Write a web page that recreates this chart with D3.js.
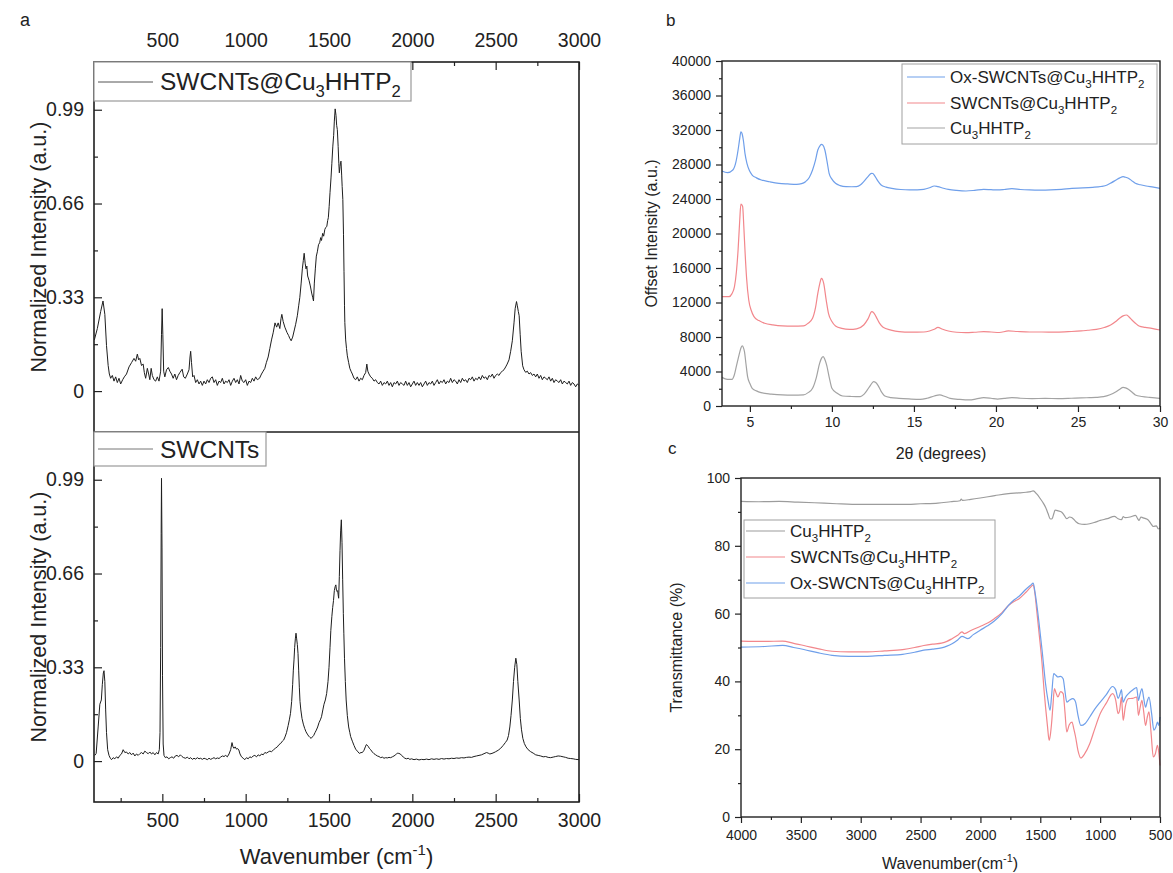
<!DOCTYPE html>
<html><head><meta charset="utf-8">
<script src="https://cdn.jsdelivr.net/npm/d3@7"></script>
<style>
body{margin:0;background:#fff}
text{font-family:"Liberation Sans",Arial,Helvetica,sans-serif;fill:#222}
</style>
</head><body>
<svg id="chart" width="1173" height="873"></svg>
<script>
// ---------------- DATA ----------------
// Panel a: Raman spectra [wavenumber cm-1, normalized intensity]
const ramanComposite = [[92,0.18],[110,0.22],[130,0.28],[144,0.317],[155,0.27],[165,0.16],[175,0.09],[182,0.06],[190,0.045],[200,0.055],[210,0.035],[220,0.05],[230,0.03],[240,0.045],[250,0.025],[262,0.04],[272,0.05],[285,0.06],[300,0.085],[315,0.1],[330,0.115],[340,0.105],[350,0.13],[358,0.11],[365,0.115],[375,0.09],[385,0.095],[392,0.065],[400,0.045],[410,0.08],[418,0.06],[425,0.04],[433,0.08],[440,0.055],[450,0.04],[460,0.035],[470,0.05],[480,0.035],[490,0.07],[495,0.2],[499,0.29],[503,0.2],[508,0.07],[515,0.05],[525,0.075],[536,0.083],[545,0.07],[555,0.06],[565,0.045],[575,0.06],[585,0.04],[595,0.055],[605,0.065],[619,0.077],[628,0.05],[638,0.045],[650,0.06],[660,0.075],[666,0.12],[670,0.14],[675,0.1],[682,0.05],[690,0.055],[700,0.03],[710,0.04],[720,0.025],[730,0.035],[740,0.02],[750,0.035],[760,0.025],[770,0.04],[780,0.03],[790,0.045],[800,0.05],[810,0.03],[820,0.04],[830,0.02],[840,0.035],[850,0.03],[860,0.045],[870,0.025],[880,0.035],[890,0.03],[900,0.04],[910,0.02],[920,0.035],[930,0.045],[940,0.03],[950,0.04],[960,0.025],[970,0.055],[980,0.035],[990,0.03],[1000,0.04],[1010,0.02],[1020,0.035],[1030,0.03],[1040,0.045],[1050,0.035],[1060,0.05],[1070,0.04],[1083,0.045],[1095,0.06],[1105,0.07],[1115,0.08],[1124,0.1],[1135,0.12],[1145,0.15],[1155,0.18],[1165,0.205],[1176,0.24],[1186,0.225],[1195,0.24],[1205,0.22],[1212,0.255],[1217,0.27],[1225,0.245],[1235,0.225],[1248,0.206],[1258,0.195],[1265,0.185],[1273,0.177],[1282,0.19],[1292,0.215],[1300,0.235],[1310,0.265],[1318,0.3],[1325,0.33],[1333,0.38],[1340,0.43],[1346,0.46],[1351,0.485],[1357,0.45],[1362,0.43],[1367,0.44],[1372,0.405],[1380,0.39],[1388,0.37],[1396,0.345],[1402,0.33],[1407,0.317],[1412,0.38],[1418,0.43],[1424,0.475],[1430,0.49],[1437,0.515],[1444,0.522],[1450,0.54],[1455,0.53],[1462,0.555],[1468,0.545],[1475,0.569],[1480,0.575],[1487,0.58],[1492,0.6],[1496,0.61],[1501,0.65],[1506,0.698],[1512,0.75],[1517,0.8],[1523,0.862],[1528,0.9],[1532,0.95],[1537,0.993],[1542,0.97],[1546,0.935],[1550,0.92],[1555,0.86],[1559,0.8],[1562,0.768],[1566,0.79],[1569,0.805],[1572,0.809],[1576,0.76],[1579,0.72],[1583,0.674],[1587,0.55],[1590,0.42],[1593,0.3],[1595,0.241],[1600,0.18],[1605,0.15],[1610,0.124],[1618,0.1],[1625,0.08],[1632,0.07],[1640,0.06],[1650,0.045],[1660,0.04],[1670,0.05],[1680,0.035],[1690,0.045],[1700,0.04],[1710,0.055],[1720,0.065],[1727,0.095],[1733,0.07],[1740,0.06],[1750,0.05],[1760,0.045],[1770,0.035],[1780,0.04],[1790,0.03],[1800,0.025],[1810,0.035],[1820,0.02],[1830,0.03],[1840,0.025],[1850,0.035],[1860,0.02],[1870,0.03],[1880,0.015],[1890,0.03],[1900,0.025],[1910,0.035],[1920,0.02],[1930,0.03],[1940,0.025],[1950,0.02],[1960,0.035],[1970,0.02],[1980,0.03],[1990,0.015],[2000,0.025],[2010,0.035],[2020,0.02],[2030,0.03],[2040,0.02],[2050,0.03],[2060,0.015],[2070,0.025],[2080,0.035],[2090,0.02],[2100,0.03],[2110,0.025],[2120,0.035],[2130,0.02],[2140,0.03],[2150,0.04],[2160,0.025],[2170,0.035],[2180,0.03],[2190,0.04],[2200,0.025],[2210,0.035],[2220,0.03],[2230,0.045],[2240,0.03],[2250,0.04],[2260,0.035],[2270,0.025],[2280,0.04],[2290,0.03],[2300,0.045],[2310,0.035],[2320,0.04],[2330,0.03],[2340,0.045],[2350,0.04],[2360,0.05],[2370,0.035],[2380,0.045],[2390,0.04],[2400,0.05],[2410,0.04],[2420,0.055],[2430,0.045],[2440,0.05],[2450,0.04],[2460,0.055],[2470,0.05],[2480,0.06],[2490,0.045],[2500,0.055],[2510,0.06],[2520,0.055],[2530,0.065],[2540,0.07],[2550,0.075],[2560,0.085],[2569,0.095],[2580,0.11],[2590,0.14],[2600,0.177],[2610,0.24],[2617,0.29],[2625,0.315],[2630,0.3],[2636,0.28],[2641,0.265],[2647,0.2],[2653,0.14],[2662,0.089],[2670,0.075],[2680,0.066],[2690,0.07],[2700,0.06],[2710,0.065],[2720,0.055],[2730,0.06],[2740,0.05],[2750,0.06],[2760,0.045],[2770,0.055],[2780,0.04],[2790,0.05],[2800,0.045],[2810,0.04],[2820,0.05],[2830,0.035],[2840,0.045],[2850,0.03],[2860,0.04],[2870,0.035],[2880,0.03],[2890,0.04],[2900,0.025],[2910,0.035],[2920,0.03],[2930,0.025],[2940,0.035],[2950,0.02],[2960,0.03],[2970,0.025],[2980,0.015],[2990,0.025],[3000,0.02]];

const ramanSWCNT = [[95,0.02],[103,0.027],[115,0.12],[125,0.2],[134,0.215],[140,0.27],[146,0.31],[150,0.318],[155,0.28],[160,0.18],[165,0.1],[172,0.04],[180,0.02],[188,0.01],[195,0.005],[205,0.012],[215,0.008],[225,0.015],[235,0.01],[245,0.02],[255,0.025],[265,0.04],[275,0.03],[285,0.032],[295,0.025],[305,0.03],[315,0.022],[325,0.028],[335,0.018],[345,0.025],[355,0.02],[365,0.026],[375,0.03],[385,0.025],[395,0.035],[405,0.03],[415,0.026],[425,0.032],[435,0.025],[445,0.03],[455,0.022],[465,0.03],[475,0.025],[482,0.04],[486,0.1],[490,0.4],[493,0.8],[495,0.995],[498,0.75],[501,0.3],[505,0.06],[510,0.02],[518,0.012],[528,0.015],[538,0.008],[548,0.012],[558,0.015],[568,0.01],[578,0.018],[588,0.02],[598,0.015],[608,0.022],[618,0.016],[628,0.012],[640,0.01],[650,0.014],[660,0.008],[670,0.012],[680,0.006],[690,0.01],[700,0.007],[710,0.012],[720,0.008],[730,0.01],[740,0.006],[750,0.01],[760,0.008],[770,0.005],[780,0.01],[790,0.006],[800,0.009],[810,0.012],[820,0.008],[830,0.011],[840,0.009],[850,0.014],[860,0.018],[870,0.016],[880,0.02],[890,0.015],[900,0.025],[910,0.04],[918,0.065],[924,0.05],[930,0.045],[937,0.05],[945,0.042],[952,0.044],[959,0.039],[966,0.025],[975,0.015],[985,0.01],[995,0.005],[1005,0.012],[1015,0.008],[1025,0.015],[1035,0.012],[1045,0.018],[1055,0.02],[1065,0.015],[1075,0.022],[1085,0.018],[1095,0.025],[1105,0.022],[1115,0.03],[1125,0.028],[1135,0.032],[1145,0.035],[1155,0.033],[1166,0.039],[1178,0.045],[1190,0.05],[1200,0.058],[1210,0.062],[1220,0.07],[1228,0.074],[1236,0.085],[1245,0.1],[1255,0.125],[1262,0.145],[1269,0.168],[1276,0.21],[1282,0.27],[1286,0.32],[1290,0.356],[1294,0.4],[1298,0.43],[1302,0.45],[1306,0.43],[1310,0.41],[1314,0.379],[1318,0.32],[1322,0.26],[1326,0.21],[1331,0.18],[1338,0.15],[1346,0.13],[1354,0.115],[1362,0.103],[1370,0.095],[1378,0.088],[1386,0.083],[1393,0.08],[1400,0.085],[1408,0.09],[1416,0.1],[1424,0.109],[1432,0.12],[1440,0.135],[1448,0.145],[1455,0.156],[1463,0.18],[1470,0.2],[1478,0.215],[1486,0.238],[1494,0.28],[1500,0.33],[1506,0.4],[1511,0.46],[1517,0.508],[1522,0.54],[1527,0.565],[1532,0.6],[1537,0.614],[1541,0.62],[1545,0.6],[1548,0.597],[1552,0.6],[1555,0.585],[1558,0.573],[1562,0.65],[1566,0.74],[1570,0.81],[1574,0.849],[1578,0.77],[1582,0.64],[1586,0.52],[1589,0.45],[1593,0.36],[1598,0.28],[1603,0.215],[1610,0.16],[1618,0.12],[1625,0.1],[1630,0.086],[1640,0.07],[1650,0.055],[1660,0.042],[1670,0.035],[1682,0.027],[1692,0.03],[1700,0.03],[1710,0.038],[1718,0.05],[1724,0.058],[1729,0.056],[1735,0.052],[1742,0.045],[1750,0.04],[1760,0.032],[1770,0.026],[1780,0.022],[1790,0.018],[1800,0.016],[1810,0.012],[1820,0.014],[1830,0.01],[1840,0.012],[1850,0.011],[1860,0.013],[1870,0.012],[1880,0.015],[1890,0.018],[1900,0.022],[1910,0.028],[1919,0.027],[1928,0.025],[1935,0.02],[1945,0.015],[1955,0.01],[1965,0.008],[1975,0.01],[1985,0.006],[1995,0.008],[2010,0.005],[2025,0.007],[2040,0.004],[2055,0.006],[2070,0.005],[2085,0.007],[2100,0.005],[2115,0.008],[2130,0.006],[2145,0.008],[2160,0.006],[2175,0.009],[2190,0.007],[2205,0.009],[2220,0.008],[2235,0.01],[2250,0.009],[2265,0.011],[2280,0.01],[2295,0.012],[2310,0.011],[2325,0.013],[2340,0.014],[2355,0.013],[2370,0.016],[2385,0.018],[2400,0.02],[2415,0.022],[2430,0.026],[2445,0.03],[2455,0.028],[2465,0.025],[2478,0.027],[2490,0.03],[2500,0.033],[2515,0.038],[2530,0.045],[2545,0.055],[2558,0.065],[2569,0.074],[2577,0.09],[2585,0.12],[2592,0.16],[2600,0.215],[2607,0.28],[2614,0.33],[2621,0.362],[2627,0.34],[2633,0.28],[2641,0.215],[2648,0.15],[2655,0.11],[2663,0.08],[2672,0.062],[2682,0.05],[2695,0.04],[2710,0.033],[2725,0.028],[2740,0.022],[2755,0.02],[2770,0.018],[2785,0.015],[2800,0.016],[2815,0.013],[2830,0.012],[2845,0.014],[2860,0.016],[2875,0.018],[2890,0.017],[2905,0.015],[2920,0.013],[2935,0.01],[2950,0.009],[2965,0.008],[2980,0.006],[3000,0.005]];

const ramanXTicks = [500,1000,1500,2000,2500,3000];
const ramanYTicks = [0,0.33,0.66,0.99];

// Panel b: XRD [2theta, offset intensity]
const xrdOx = [[3.3,27250],[3.63,27050],[3.96,27360],[4.15,28300],[4.28,29680],[4.38,31000],[4.45,31800],[4.52,31600],[4.6,30840],[4.7,29300],[4.82,28140],[4.97,27300],[5.14,26780],[5.4,26450],[5.7,26200],[6.2,26000],[6.77,25820],[7.3,25750],[7.85,25700],[8.15,25780],[8.39,26010],[8.62,26500],[8.82,27360],[9.0,28500],[9.14,29680],[9.28,30200],[9.36,30340],[9.45,30250],[9.57,29680],[9.7,28400],[9.83,26980],[10.0,26300],[10.22,25820],[10.5,25550],[10.86,25430],[11.2,25420],[11.5,25430],[11.75,25650],[11.94,26010],[12.2,26600],[12.41,26980],[12.5,26950],[12.58,26780],[12.8,26100],[13.0,25620],[13.3,25380],[13.65,25240],[14.2,25100],[14.73,25050],[15.2,25060],[15.6,25120],[15.95,25300],[16.24,25510],[16.46,25430],[16.8,25250],[17.1,25120],[17.6,25000],[18.17,24930],[18.7,25000],[19.25,25120],[19.7,25080],[20.1,25050],[20.5,25100],[20.97,25200],[21.5,25100],[22.05,25050],[22.7,25030],[23.34,25050],[24.0,25120],[24.63,25240],[25.3,25280],[25.9,25350],[26.4,25450],[26.78,25620],[27.05,25900],[27.32,26200],[27.55,26450],[27.75,26590],[27.9,26520],[28.07,26400],[28.3,26100],[28.5,25820],[28.8,25650],[29.15,25510],[29.6,25380],[30.0,25240]];
const xrdSW = [[3.3,12680],[3.73,12680],[3.9,13000],[4.06,13840],[4.18,15600],[4.28,18090],[4.38,21500],[4.45,23420],[4.5,23350],[4.56,23110],[4.63,20800],[4.71,17700],[4.8,14800],[4.93,12290],[5.08,11100],[5.25,10360],[5.55,9900],[5.9,9590],[6.4,9400],[6.98,9280],[7.6,9250],[8.27,9280],[8.55,9600],[8.82,10170],[9.0,11400],[9.14,13060],[9.26,14200],[9.36,14800],[9.42,14700],[9.5,14220],[9.65,12300],[9.79,10740],[10.0,9800],[10.22,9280],[10.6,9000],[11.08,8890],[11.5,8950],[11.94,9390],[12.2,10100],[12.43,10940],[12.55,10800],[12.69,10360],[12.9,9600],[13.12,9120],[13.6,8800],[14.09,8620],[14.8,8560],[15.6,8580],[15.95,8700],[16.24,8890],[16.46,9120],[16.75,8900],[17.1,8700],[17.6,8550],[18.17,8500],[18.7,8550],[19.25,8620],[19.7,8580],[20.2,8520],[20.76,8700],[21.3,8640],[22.05,8580],[22.8,8580],[23.6,8560],[24.4,8620],[25.2,8700],[25.6,8780],[26.12,8890],[26.6,9100],[26.99,9390],[27.3,9800],[27.53,10170],[27.75,10450],[27.96,10550],[28.1,10350],[28.29,9970],[28.5,9600],[28.72,9280],[29.1,9120],[29.5,9000],[30.0,8810]];
const xrdCu = [[3.3,3320],[3.63,3090],[3.91,3090],[4.05,3600],[4.17,4560],[4.3,5600],[4.39,6300],[4.46,6750],[4.54,6960],[4.6,6800],[4.67,6300],[4.76,4900],[4.86,3400],[5.0,2600],[5.14,2050],[5.4,1750],[5.68,1550],[6.3,1380],[6.98,1280],[7.6,1260],[8.27,1280],[8.55,1550],[8.82,2050],[9.05,3300],[9.25,4950],[9.37,5550],[9.47,5720],[9.57,5400],[9.68,4750],[9.85,3200],[10.0,2050],[10.3,1500],[10.65,1160],[11.2,1100],[11.73,1080],[11.95,1350],[12.16,1860],[12.35,2400],[12.54,2820],[12.65,2750],[12.8,2430],[13.0,1700],[13.23,1160],[13.6,980],[14.09,890],[14.7,820],[15.38,770],[15.8,900],[16.24,1160],[16.57,1280],[16.9,1100],[17.21,890],[17.8,760],[18.39,700],[18.8,820],[19.25,970],[19.7,900],[20.1,800],[20.5,880],[20.97,970],[21.5,900],[22.2,860],[23.0,880],[23.8,860],[24.6,900],[25.2,940],[25.7,970],[26.1,1000],[26.56,1080],[26.95,1300],[27.32,1660],[27.55,1950],[27.75,2160],[27.9,2100],[28.07,1930],[28.3,1600],[28.5,1280],[28.9,1100],[29.36,1000],[29.7,950],[30.0,890]];
const xrdXTicks = [5,10,15,20,25,30];
const xrdYTicks = [0,4000,8000,12000,16000,20000,24000,28000,32000,36000,40000];

// Panel c: FTIR [wavenumber cm-1, transmittance %]
const ftirCu = [[4000,93.1],[3850,93.0],[3682,93.1],[3530,92.9],[3387,92.7],[3200,92.4],[3004,92.2],[2820,92.2],[2650,92.2],[2500,92.4],[2355,92.6],[2250,93.0],[2170,93.3],[2160,93.8],[2150,93.4],[2080,93.7],[2002,94.1],[1880,94.8],[1766,95.4],[1680,95.6],[1618,95.8],[1580,96.0],[1559,96.2],[1530,95.3],[1500,93.9],[1475,92.6],[1456,91.4],[1435,89.5],[1418,88.0],[1407,87.9],[1397,88.3],[1386,89.6],[1376,90.5],[1350,90.3],[1323,90.0],[1300,89.0],[1279,88.0],[1255,88.5],[1235,88.3],[1205,87.2],[1176,86.5],[1130,86.3],[1087,86.5],[1040,87.0],[999,87.5],[940,88.0],[881,88.7],[850,88.0],[822,87.7],[807,88.6],[792,88.3],[750,88.5],[704,89.0],[690,88.2],[674,87.5],[660,88.5],[645,88.3],[620,88.0],[601,87.7],[575,86.5],[556,85.7],[530,85.9],[515,85.0],[500,85.3]];
const ftirSW = [[4000,51.9],[3800,51.8],[3652,51.9],[3560,51.2],[3475,50.6],[3350,49.6],[3239,48.9],[3100,48.7],[2945,48.7],[2800,49.0],[2650,49.4],[2550,50.0],[2473,50.6],[2400,51.0],[2325,51.3],[2280,51.8],[2237,52.6],[2190,53.6],[2154,54.6],[2134,54.1],[2080,55.0],[2002,56.2],[1940,57.2],[1884,58.5],[1820,60.3],[1766,62.4],[1720,63.6],[1677,64.4],[1620,66.3],[1580,67.8],[1559,68.5],[1545,66.0],[1530,61.0],[1508,53.5],[1485,45.2],[1470,38.0],[1456,32.4],[1440,26.8],[1426,22.6],[1416,24.2],[1406,27.5],[1394,33.0],[1382,37.9],[1368,36.6],[1353,35.4],[1330,37.0],[1309,36.4],[1294,31.0],[1279,25.1],[1258,27.2],[1235,28.0],[1220,26.0],[1205,23.6],[1185,19.6],[1161,17.4],[1130,18.6],[1087,21.6],[1045,26.0],[999,30.5],[950,33.5],[896,36.4],[870,34.5],[850,30.5],[837,31.5],[822,35.4],[815,32.0],[807,28.5],[790,32.5],[763,34.9],[730,35.0],[695,35.4],[688,33.0],[680,30.0],[665,32.5],[651,34.4],[636,31.0],[621,27.0],[606,29.5],[592,31.0],[575,25.0],[556,17.7],[540,18.5],[521,21.1],[510,19.0],[500,15.2]];
const ftirOx = [[4000,50.1],[3800,50.3],[3652,50.6],[3560,50.0],[3475,49.4],[3350,48.4],[3239,47.7],[3100,47.4],[2945,47.4],[2800,47.7],[2650,48.0],[2550,48.6],[2473,49.2],[2400,49.5],[2325,49.9],[2280,50.4],[2237,51.1],[2190,52.2],[2154,53.3],[2104,52.6],[2060,53.8],[2002,55.1],[1940,56.4],[1884,57.8],[1820,60.0],[1766,62.4],[1720,64.0],[1677,65.1],[1620,67.2],[1580,68.4],[1559,69.0],[1545,66.5],[1530,62.9],[1508,56.5],[1485,49.2],[1470,44.0],[1456,39.3],[1436,34.5],[1418,31.5],[1405,36.0],[1388,42.3],[1370,41.8],[1353,41.3],[1330,41.5],[1309,40.8],[1294,37.2],[1279,33.9],[1255,34.5],[1229,34.9],[1215,34.6],[1205,33.9],[1185,30.0],[1161,27.0],[1125,27.6],[1087,29.5],[1045,31.8],[999,33.9],[950,36.0],[896,38.5],[870,37.5],[850,35.0],[837,35.9],[822,37.6],[815,35.5],[807,33.9],[790,35.2],[763,36.4],[730,37.4],[695,38.2],[688,36.5],[680,34.4],[665,36.5],[651,37.9],[636,35.0],[621,32.4],[606,34.2],[592,35.4],[570,30.5],[551,25.6],[535,26.5],[521,28.0],[510,27.0],[500,29.5]];
const ftirXTicks = [4000,3500,3000,2500,2000,1500,1000,500];
const ftirYTicks = [0,20,40,60,80,100];

const cBlue = "#6f9fea", cRed = "#f2878c", cGray = "#a3a3a3";

// ---------------- HELPERS ----------------
const svg = d3.select("#chart");
const fmtInt = d3.format("d");
function rich(g, x, y, parts, fs, anchor, rotate) {
  const t = g.append("text").attr("x", x).attr("y", y)
    .attr("font-size", fs).attr("text-anchor", anchor || "start");
  if (rotate) t.attr("transform", `rotate(${rotate},${x},${y})`);
  let cur = 0;
  parts.forEach(p => {
    const s = p[0], type = p[1];
    let off = 0, size = fs;
    if (type === "sub") { off = 0.3 * fs; size = 0.68 * fs; }
    if (type === "sup") { off = -0.42 * fs; size = 0.68 * fs; }
    t.append("tspan").attr("dy", off - cur).attr("font-size", size).text(s);
    cur = off;
  });
  return t;
}
function styleAxis(g, fs) {
  g.select(".domain").remove();
  g.selectAll(".tick line").attr("stroke", "#222").attr("stroke-width", 1.2);
  g.selectAll(".tick text").attr("font-size", fs).attr("fill", "#222")
    .attr("font-family", '"Liberation Sans",Arial,sans-serif');
}
const subCu = [["SWCNTs@Cu"],["3","sub"],["HHTP"],["2","sub"]];
const subOx = [["Ox-SWCNTs@Cu"],["3","sub"],["HHTP"],["2","sub"]];
const subPure = [["Cu"],["3","sub"],["HHTP"],["2","sub"]];

// ---------------- PANEL A ----------------
const aL = 94, aR = 579, aT = 62, aM = 432, aB = 802;
const xA = d3.scaleLinear().domain([90, 3000]).range([aL, aR]);
const yAT = d3.scaleLinear().domain([-0.144, 1.158]).range([aM, aT]);
const yAB = d3.scaleLinear().domain([-0.144, 1.158]).range([aB, aM]);
const aFs = 19.5;
const minorX = d3.range(250, 3001, 250).filter(v => v % 500 !== 0);
const minorY = [0.165, 0.495, 0.825];

const gA = svg.append("g");
const lineAT = d3.line().x(d => xA(d[0])).y(d => yAT(d[1]));
const lineAB = d3.line().x(d => xA(d[0])).y(d => yAB(d[1]));
gA.append("path").datum(ramanComposite).attr("d", lineAT).attr("fill", "none").attr("stroke", "#1e1e1e").attr("stroke-width", 1);
gA.append("path").datum(ramanSWCNT).attr("d", lineAB).attr("fill", "none").attr("stroke", "#1e1e1e").attr("stroke-width", 1);

let ax;
ax = gA.append("g").attr("transform", `translate(0,${aT})`)
  .call(d3.axisTop(xA).tickValues(ramanXTicks).tickSize(-8).tickPadding(15).tickFormat(fmtInt)); styleAxis(ax, aFs);
ax.selectAll(".tick text").attr("dy", "0em");
ax = gA.append("g").attr("transform", `translate(0,${aT})`)
  .call(d3.axisTop(xA).tickValues(minorX).tickSize(-4).tickFormat("")); styleAxis(ax, aFs);
ax = gA.append("g").attr("transform", `translate(0,${aB})`)
  .call(d3.axisBottom(xA).tickValues(ramanXTicks).tickSize(-8).tickPadding(11).tickFormat(fmtInt)); styleAxis(ax, aFs);
ax = gA.append("g").attr("transform", `translate(0,${aB})`)
  .call(d3.axisBottom(xA).tickValues(minorX).tickSize(-4).tickFormat("")); styleAxis(ax, aFs);
[yAT, yAB].forEach(ys => {
  ax = gA.append("g").attr("transform", `translate(${aL},0)`)
    .call(d3.axisLeft(ys).tickValues(ramanYTicks).tickSize(-8).tickPadding(10)
      .tickFormat(d => d === 0 ? "0" : d3.format(".2f")(d))); styleAxis(ax, aFs);
  ax = gA.append("g").attr("transform", `translate(${aL},0)`)
    .call(d3.axisLeft(ys).tickValues(minorY).tickSize(-4).tickFormat("")); styleAxis(ax, aFs);
});
gA.append("rect").attr("x", aL).attr("y", aT).attr("width", aR - aL).attr("height", aB - aT)
  .attr("fill", "none").attr("stroke", "#1e1e1e").attr("stroke-width", 1.6);
gA.append("line").attr("x1", aL).attr("x2", aR).attr("y1", aM).attr("y2", aM)
  .attr("stroke", "#1e1e1e").attr("stroke-width", 1.6);
gA.append("rect").attr("x", aL).attr("y", aT).attr("width", 317).attr("height", 39)
  .attr("fill", "#fff").attr("stroke", "#9a9a9a").attr("stroke-width", 1.2);
gA.append("line").attr("x1", 98).attr("x2", 153).attr("y1", 82).attr("y2", 82).attr("stroke", "#555").attr("stroke-width", 1);
rich(gA, 160, 90, subCu, 24.5);
gA.append("rect").attr("x", aL).attr("y", aM).attr("width", 172).attr("height", 34)
  .attr("fill", "#fff").attr("stroke", "#9a9a9a").attr("stroke-width", 1.2);
gA.append("line").attr("x1", 98).attr("x2", 153).attr("y1", 449).attr("y2", 449).attr("stroke", "#777").attr("stroke-width", 1);
rich(gA, 160, 457.5, [["SWCNTs"]], 24.5);
rich(gA, 46, (aT + aM) / 2, [["Normalized Intensity (a.u.)"]], 21.5, "middle", -90);
rich(gA, 46, (aM + aB) / 2, [["Normalized Intensity (a.u.)"]], 21.5, "middle", -90);
rich(gA, (aL + aR) / 2, 864, [["Wavenumber (cm"], ["-1", "sup"], [")"]], 22, "middle");
rich(gA, 20, 26, [["a"]], 18);

// ---------------- PANEL B ----------------
const bL = 722, bR = 1160, bT = 61, bB = 406;
const xB = d3.scaleLinear().domain([3.3, 30]).range([bL, bR]);
const yB = d3.scaleLinear().domain([0, 40000]).range([bB, bT]);
const gB = svg.append("g");
const lineB = d3.line().x(d => xB(d[0])).y(d => yB(d[1])).curve(d3.curveMonotoneX);
[[xrdCu, cGray], [xrdSW, cRed], [xrdOx, cBlue]].forEach(([d, c]) =>
  gB.append("path").datum(d).attr("d", lineB).attr("fill", "none").attr("stroke", c).attr("stroke-width", 1.2));
ax = gB.append("g").attr("transform", `translate(0,${bB})`)
  .call(d3.axisBottom(xB).tickValues(xrdXTicks).tickSize(6).tickPadding(5).tickFormat(fmtInt)); styleAxis(ax, 14);
ax = gB.append("g").attr("transform", `translate(0,${bB})`)
  .call(d3.axisBottom(xB).tickValues([7.5, 12.5, 17.5, 22.5, 27.5]).tickSize(3).tickFormat("")); styleAxis(ax, 14);
ax = gB.append("g").attr("transform", `translate(${bL},0)`)
  .call(d3.axisLeft(yB).tickValues(xrdYTicks).tickSize(6).tickPadding(5).tickFormat(fmtInt)); styleAxis(ax, 14);
ax = gB.append("g").attr("transform", `translate(${bL},0)`)
  .call(d3.axisLeft(yB).tickValues(d3.range(2000, 40000, 4000)).tickSize(3).tickFormat("")); styleAxis(ax, 14);
gB.append("rect").attr("x", bL).attr("y", bT).attr("width", bR - bL).attr("height", bB - bT)
  .attr("fill", "none").attr("stroke", "#222").attr("stroke-width", 1.4);
gB.append("rect").attr("x", 902).attr("y", 64).attr("width", 255).attr("height", 80)
  .attr("fill", "#fff").attr("stroke", "#a0a0a0").attr("stroke-width", 1);
[[subOx, cBlue, 77], [subCu, cRed, 103], [subPure, cGray, 128]].forEach(([p, c, y]) => {
  gB.append("line").attr("x1", 907).attr("x2", 945).attr("y1", y).attr("y2", y).attr("stroke", c).attr("stroke-width", 1.2);
  rich(gB, 950, y + 6, p, 17);
});
rich(gB, (bL + bR) / 2, 459, [["2θ (degrees)"]], 16, "middle");
rich(gB, 657, (bT + bB) / 2, [["Offset Intensity (a.u.)"]], 16, "middle", -90);
rich(gB, 666, 26, [["b"]], 17);

// ---------------- PANEL C ----------------
const cL = 741, cR = 1160, cT = 478, cB = 817;
const xC = d3.scaleLinear().domain([4000, 500]).range([cL, cR]);
const yC = d3.scaleLinear().domain([0, 100]).range([cB, cT]);
const gC = svg.append("g");
const lineC = d3.line().x(d => xC(d[0])).y(d => yC(d[1])).curve(d3.curveMonotoneX);
[[ftirCu, "#9c9c9c"], [ftirSW, cRed], [ftirOx, cBlue]].forEach(([d, c]) =>
  gC.append("path").datum(d).attr("d", lineC).attr("fill", "none").attr("stroke", c).attr("stroke-width", 1.2));
ax = gC.append("g").attr("transform", `translate(0,${cB})`)
  .call(d3.axisBottom(xC).tickValues(ftirXTicks).tickSize(6).tickPadding(7).tickFormat(fmtInt)); styleAxis(ax, 14);
ax = gC.append("g").attr("transform", `translate(0,${cB})`)
  .call(d3.axisBottom(xC).tickValues([3750, 3250, 2750, 2250, 1750, 1250, 750]).tickSize(3).tickFormat("")); styleAxis(ax, 14);
ax = gC.append("g").attr("transform", `translate(${cL},0)`)
  .call(d3.axisLeft(yC).tickValues(ftirYTicks).tickSize(6).tickPadding(5).tickFormat(fmtInt)); styleAxis(ax, 14);
ax = gC.append("g").attr("transform", `translate(${cL},0)`)
  .call(d3.axisLeft(yC).tickValues([10, 30, 50, 70, 90]).tickSize(3).tickFormat("")); styleAxis(ax, 14);
gC.append("rect").attr("x", cL).attr("y", cT).attr("width", cR - cL).attr("height", cB - cT)
  .attr("fill", "none").attr("stroke", "#222").attr("stroke-width", 1.4);
gC.append("rect").attr("x", 744).attr("y", 520).attr("width", 251).attr("height", 78)
  .attr("fill", "#fff").attr("stroke", "#a0a0a0").attr("stroke-width", 1);
[[subPure, "#9c9c9c", 531], [subCu, cRed, 557], [subOx, cBlue, 583]].forEach(([p, c, y]) => {
  gC.append("line").attr("x1", 746).attr("x2", 785).attr("y1", y).attr("y2", y).attr("stroke", c).attr("stroke-width", 1.2);
  rich(gC, 790, y + 6, p, 17);
});
rich(gC, 950, 869, [["Wavenumber(cm"], ["-1", "sup"], [")"]], 16, "middle");
rich(gC, 682, (cT + cB) / 2, [["Transmittance (%)"]], 16, "middle", -90);
rich(gC, 668, 454, [["c"]], 17);
</script>
</body></html>
